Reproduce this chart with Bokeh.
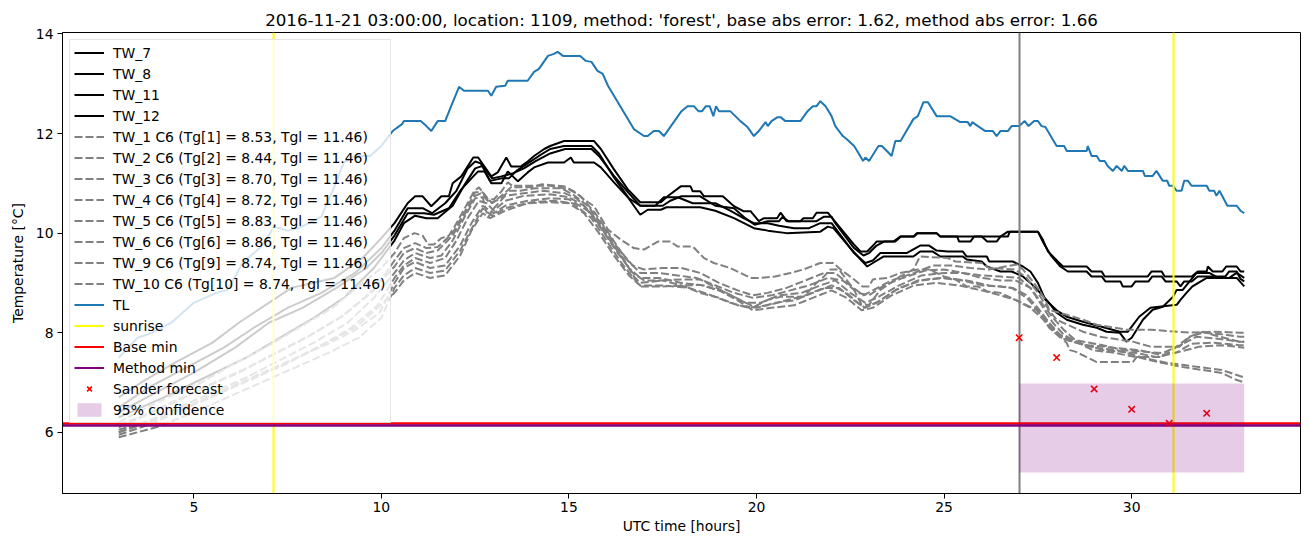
from bokeh.plotting import figure
from bokeh.models import Range1d, FixedTicker, Legend, LegendItem
from bokeh.embed import file_html
from bokeh.resources import INLINE

TITLE = "2016-11-21 03:00:00, location: 1109, method: 'forest', base abs error: 1.62, method abs error: 1.66"

# ---- data (time [h], temperature [C]) ----
tl = [(3.0,7.5),(3.5,7.9),(3.9,8.0),(4.4,8.2),(5.0,8.6),(5.6,8.8),(5.9,8.86),(6.3,9.4),(6.8,9.73),(7.15,10.13),
      (7.5,10.05),(7.8,10.1),(8.4,10.33),(8.75,10.94),(9.0,11.42),(9.3,11.55),(9.7,11.55),(10.0,11.75),(10.3,12.05),
      (10.55,12.19),(10.6,12.25),(11.05,12.25),(11.2,12.15),(11.33,12.05),(11.5,12.25),(11.7,12.25),(11.86,12.55),
      (12.07,12.94),(12.2,12.86),(12.84,12.86),(12.93,12.76),(13.06,12.94),(13.3,12.96),(13.37,13.06),(13.9,13.06),
      (14.07,13.24),(14.2,13.3),(14.44,13.56),(14.6,13.6),(14.7,13.64),(14.84,13.56),(15.3,13.56),(15.45,13.46),
      (15.6,13.44),(15.76,13.26),(15.9,13.2),(16.04,12.96),(16.73,12.09),(17.0,11.95),(17.1,11.95),(17.26,12.05),
      (17.4,12.05),(17.53,11.95),(18.0,12.45),(18.16,12.55),(18.33,12.55),(18.45,12.45),(18.55,12.45),(18.65,12.55),
      (18.75,12.55),(18.85,12.35),(18.92,12.55),(19.0,12.45),(19.3,12.45),(19.57,12.25),(19.76,12.13),(19.93,11.95),
      (20.06,12.05),(20.24,12.23),(20.3,12.15),(20.4,12.25),(20.56,12.33),(20.64,12.33),(20.77,12.25),(21.17,12.25),
      (21.36,12.45),(21.5,12.55),(21.6,12.55),(21.7,12.65),(21.84,12.55),(22.0,12.35),(22.1,12.15),(22.3,11.95),
      (22.4,11.89),(22.6,11.75),(22.7,11.63),(22.84,11.45),(22.9,11.52),(23.0,11.45),(23.25,11.75),(23.34,11.75),
      (23.5,11.63),(23.6,11.55),(23.7,11.85),(23.84,11.85),(24.18,12.29),(24.3,12.35),(24.45,12.63),(24.57,12.63),
      (24.8,12.35),(25.16,12.35),(25.43,12.23),(25.63,12.23),(25.7,12.15),(25.75,12.23),(25.9,12.15),(26.1,12.05),
      (26.3,12.05),(26.4,11.95),(26.5,12.05),(26.7,12.05),(26.8,12.15),(27.0,12.15),(27.15,12.25),(27.25,12.15),
      (27.4,12.25),(27.5,12.25),(27.6,12.15),(27.7,12.13),(28.0,11.75),(28.2,11.75),(28.27,11.65),(28.8,11.65),
      (28.83,11.75),(28.93,11.55),(29.07,11.55),(29.15,11.45),(29.28,11.45),(29.36,11.35),(29.5,11.25),(29.6,11.35),
      (29.74,11.25),(29.8,11.35),(29.9,11.25),(30.3,11.25),(30.35,11.15),(30.56,11.15),(30.66,11.25),(30.83,11.05),
      (30.95,11.05),(31.0,10.95),(31.1,10.95),(31.2,10.85),(31.33,10.85),(31.4,11.05),(31.5,11.05),(31.6,10.95),
      (32.0,10.95),(32.07,10.85),(32.2,10.85),(32.26,10.75),(32.34,10.85),(32.55,10.55),(32.8,10.55),(32.9,10.45),
      (33.0,10.4)]

tw7 = [(3.0,6.7),(3.6,7.0),(4.5,7.4),(5.5,7.8),(6.2,8.2),(6.8,8.5),(7.6,8.9),(8.75,9.1),(9.5,9.5),(10.0,9.9),
       (10.35,10.2),(10.7,10.6),(10.9,10.74),(11.1,10.74),(11.33,10.54),(11.6,10.74),(11.8,10.74),(11.9,11.0),
       (12.13,11.14),(12.45,11.52),(12.58,11.52),(12.93,11.14),(13.1,11.22),(13.33,11.52),(13.46,11.34),(13.72,11.34),
       (13.9,11.44),(14.07,11.55),(14.34,11.69),(14.5,11.75),(14.87,11.85),(15.67,11.85),(15.85,11.69),(16.2,11.28),
       (16.57,10.88),(16.9,10.62),(17.45,10.62),(17.63,10.74),(17.98,10.94),(18.24,10.94),(18.3,10.84),(18.5,10.84),
       (18.6,10.74),(19.1,10.74),(19.4,10.54),(19.65,10.44),(19.84,10.44),(20.06,10.24),(20.2,10.3),(20.55,10.3),
       (20.64,10.41),(20.75,10.3),(20.85,10.24),(21.17,10.24),(21.25,10.3),(21.5,10.3),(21.6,10.41),(21.9,10.41),
       (22.05,10.27),(22.6,9.77),(22.77,9.63),(22.95,9.63),(23.08,9.73),(23.2,9.83),(23.65,9.83),(23.83,9.93),
       (24.18,9.93),(24.27,10.0),(24.8,10.0),(24.9,9.93),(26.5,9.93),(26.7,10.03),(27.5,10.03),(27.63,9.87),
       (27.77,9.63),(27.9,9.53),(28.03,9.43),(28.17,9.33),(28.8,9.33),(28.93,9.23),(29.2,9.23),(29.28,9.13),
       (30.43,9.13),(30.53,9.23),(30.8,9.23),(30.88,9.13),(31.6,9.13),(31.76,9.23),(32.0,9.23),(32.03,9.33),
       (32.16,9.23),(32.42,9.23),(32.52,9.33),(32.8,9.33),(32.9,9.23),(33.0,9.23)]

tw8 = [(3.0,6.5),(3.8,6.9),(4.8,7.3),(5.8,7.7),(6.6,8.1),(7.5,8.5),(8.4,8.8),(9.3,9.2),(10.0,9.7),(10.35,10.05),
       (10.7,10.5),(11.1,10.5),(11.35,10.4),(11.7,10.6),(12.0,10.85),(12.3,11.3),(12.5,11.44),(12.65,11.4),(12.9,11.05),
       (13.2,11.1),(13.4,11.1),(13.6,11.25),(13.9,11.4),(14.2,11.55),(14.5,11.69),(14.87,11.75),(15.6,11.75),(15.8,11.6),
       (16.2,11.12),(16.6,10.7),(16.9,10.55),(17.5,10.55),(17.7,10.65),(18.0,10.74),(18.5,10.74),(18.9,10.55),
       (19.4,10.5),(19.7,10.3),(19.95,10.17),(20.3,10.24),(20.6,10.24),(20.7,10.33),(20.8,10.24),(21.6,10.24),
       (21.8,10.33),(22.0,10.33),(22.1,10.2),(22.6,9.7),(22.85,9.55),(23.0,9.6),(23.2,9.75),(23.4,9.83),(23.7,9.83),
       (23.85,9.93),(24.2,9.93),(24.3,10.0),(24.8,10.0),(24.9,9.93),(25.35,9.93),(25.4,9.83),(25.7,9.83),(25.8,9.93),
       (26.0,9.93),(26.15,9.83),(26.4,9.83),(26.5,9.93),(26.7,9.93),(26.75,10.03),(27.5,10.03),(27.65,9.8),
       (27.85,9.55),(28.1,9.33),(28.3,9.23),(28.8,9.23),(28.93,9.13),(29.2,9.13),(29.3,9.03),(29.7,9.03),
       (29.76,8.93),(30.0,8.93),(30.1,9.03),(30.45,9.03),(30.55,9.13),(30.8,9.13),(30.9,9.03),(31.2,9.03),
       (31.3,8.93),(31.4,9.03),(31.6,9.03),(31.76,9.13),(32.5,9.13),(32.6,9.23),(32.8,9.23),(32.9,9.08),(33.0,9.03)]

tw11 = [(3.0,6.4),(4.0,6.8),(5.0,7.2),(6.1,7.7),(7.0,8.2),(7.9,8.5),(8.8,8.9),(9.6,9.3),(10.0,9.6),(10.35,9.95),
        (10.7,10.4),(11.14,10.4),(11.4,10.37),(11.8,10.5),(12.13,10.88),(12.45,11.14),(12.58,11.24),(12.75,11.24),
        (12.93,11.0),(13.2,11.0),(13.37,11.24),(13.64,11.04),(13.9,11.22),(14.07,11.32),(14.44,11.42),(14.87,11.42),
        (15.05,11.52),(15.13,11.42),(15.67,11.42),(15.85,11.32),(16.2,11.02),(16.57,10.72),(16.9,10.37),(17.1,10.47),
        (17.45,10.47),(17.6,10.52),(18.5,10.52),(18.9,10.45),(19.4,10.3),(19.93,10.1),(20.3,10.05),(20.8,10.0),
        (21.7,10.03),(21.9,10.13),(22.05,10.1),(22.5,9.7),(22.8,9.45),(22.95,9.33),(23.1,9.4),(23.38,9.53),
        (24.18,9.53),(24.36,9.63),(24.7,9.63),(24.9,9.53),(25.5,9.53),(25.6,9.47),(26.0,9.43),(26.14,9.33),
        (26.5,9.23),(26.8,9.23),(27.1,9.13),(27.3,9.0),(27.5,8.85),(27.8,8.6),(28.0,8.4),(28.27,8.26),(28.7,8.16),
        (29.07,8.1),(29.33,8.02),(29.68,8.0),(29.86,7.82),(30.0,7.9),(30.3,8.26),(30.56,8.46),(30.83,8.52),
        (31.1,8.72),(31.2,8.86),(31.36,8.86),(31.73,9.2),(32.07,9.2),(32.3,9.1),(32.6,9.1),(32.8,9.2),(33.0,9.1)]

tw12 = [(3.0,6.3),(4.2,6.7),(5.3,7.1),(6.4,7.5),(7.3,7.9),(8.2,8.3),(9.0,8.7),(9.8,9.3),(10.35,9.85),(10.6,10.2),
        (10.9,10.35),(11.2,10.3),(11.5,10.3),(11.9,10.55),(12.2,10.95),(12.5,11.3),(12.7,11.35),(12.95,11.1),
        (13.2,11.14),(13.5,11.2),(13.8,11.3),(14.1,11.44),(14.5,11.6),(14.9,11.69),(15.6,11.69),(15.8,11.55),
        (16.2,11.15),(16.6,10.8),(16.9,10.55),(17.3,10.55),(17.53,10.72),(17.9,10.72),(18.3,10.6),(18.9,10.6),
        (19.3,10.45),(19.65,10.3),(19.93,10.2),(20.3,10.2),(20.6,10.15),(21.0,10.1),(21.4,10.1),(21.7,10.2),
        (22.0,10.2),(22.2,10.0),(22.6,9.6),(22.9,9.4),(23.1,9.45),(23.3,9.6),(24.0,9.6),(24.36,9.75),(24.6,9.75),
        (24.8,9.65),(25.1,9.63),(25.5,9.63),(25.6,9.53),(26.14,9.53),(26.2,9.43),(26.83,9.43),(27.1,9.33),
        (27.3,9.23),(27.5,9.0),(27.7,8.66),(28.0,8.45),(28.27,8.32),(28.7,8.22),(29.2,8.12),(29.68,8.02),
        (29.9,8.02),(30.2,8.32),(30.5,8.5),(31.2,8.56),(31.3,8.66),(31.46,8.8),(31.62,8.93),(32.0,9.1),
        (32.8,9.1),(33.0,8.93)]

tw1 = [(3.0,6.2),(3.5,6.4),(4.3,6.7),(5.2,7.0),(6.0,7.35),(6.9,7.7),(7.8,8.1),(8.7,8.5),(9.5,9.0),(10.0,9.3),
       (10.35,9.6),(10.6,9.9),(10.88,10.0),(11.1,9.95),(11.25,9.77),(11.4,9.77),(11.6,9.9),(11.8,9.95),(11.95,10.13),
       (12.2,10.47),(12.47,10.84),(12.6,10.92),(12.84,10.68),(13.0,10.68),(13.2,10.84),(13.37,11.02),(13.54,10.92),
       (14.0,10.92),(14.26,10.98),(14.87,10.94),(15.13,10.84),(15.4,10.68),(15.67,10.54),(16.04,10.07),(16.38,9.87),
       (16.73,9.7),(17.0,9.67),(17.37,9.83),(17.7,9.83),(17.9,9.73),(18.3,9.73),(18.6,9.5),(18.86,9.4),(19.3,9.3),
       (19.57,9.2),(19.84,9.1),(20.1,9.1),(20.5,9.13),(20.9,9.2),(21.25,9.27),(21.7,9.4),(22.05,9.4),(22.24,9.27),
       (22.6,9.07),(22.82,8.93),(23.0,8.93),(23.1,9.07),(23.5,9.1),(23.83,9.2),(24.3,9.27),(24.6,9.27),(25.0,9.13),
       (25.3,9.07),(25.6,8.93),(25.9,8.93),(26.15,8.83),(26.5,8.8),(26.9,8.66),(27.3,8.52),(27.45,8.46),(27.7,8.26),
       (28.0,8.0),(28.27,7.79),(28.35,7.65),(28.5,7.62),(28.8,7.51),(29.07,7.41),(30.03,7.41),(30.13,7.51),
       (30.8,7.51),(31.2,7.72),(31.55,7.92),(31.9,8.02),(32.2,7.95),(32.87,7.82),(33.0,7.82)]

tw2 = [(3.0,6.1),(3.6,6.3),(4.4,6.6),(5.3,6.9),(6.2,7.2),(7.1,7.55),(8.0,7.9),(8.9,8.3),(9.7,8.8),(10.35,9.33),
       (10.6,9.6),(10.9,9.7),(11.2,9.6),(11.5,9.65),(11.9,9.95),(12.2,10.35),(12.5,10.75),(12.65,10.8),(12.9,10.6),
       (13.2,10.7),(13.4,10.85),(13.7,10.85),(14.1,10.9),(14.8,10.9),(15.1,10.78),(15.5,10.55),(15.9,10.15),
       (16.3,9.7),(16.7,9.35),(17.0,9.27),(17.5,9.3),(18.0,9.3),(18.5,9.2),(19.0,9.0),(19.5,8.85),(19.9,8.75),
       (20.3,8.8),(20.8,8.9),(21.3,9.05),(21.8,9.2),(22.1,9.2),(22.5,8.95),(22.85,8.75),(23.1,8.85),(23.6,9.05),
       (24.2,9.2),(24.7,9.35),(25.2,9.35),(25.7,9.3),(26.2,9.27),(26.94,9.37),(27.1,9.27),(27.4,9.0),(27.7,8.66),
       (27.8,8.46),(28.27,8.36),(28.7,8.26),(29.07,8.16),(29.86,8.06),(30.5,8.06),(31.55,8.0),(32.2,8.02),
       (32.87,8.0),(33.0,8.0)]

tw3 = [(3.0,6.0),(3.7,6.2),(4.6,6.5),(5.5,6.8),(6.4,7.1),(7.3,7.45),(8.2,7.8),(9.1,8.2),(9.8,8.7),(10.35,9.2),
       (10.6,9.45),(10.9,9.6),(11.3,9.5),(11.6,9.55),(11.9,9.85),(12.2,10.3),(12.5,10.7),(12.7,10.72),(12.84,10.31),
       (13.0,10.5),(13.3,10.75),(13.8,10.8),(14.3,10.85),(14.9,10.8),(15.2,10.7),(15.6,10.4),(16.0,9.95),(16.4,9.55),
       (16.73,9.13),(16.9,9.0),(17.5,9.05),(18.0,9.07),(18.5,9.07),(18.86,8.93),(19.4,8.72),(19.93,8.52),(20.3,8.66),
       (20.64,8.72),(21.25,8.72),(21.6,9.0),(21.8,9.13),(21.97,9.27),(22.2,9.27),(22.6,8.86),(22.8,8.56),(23.0,8.56),
       (23.3,8.86),(23.83,9.13),(24.18,9.27),(24.36,9.53),(25.1,9.5),(25.3,9.43),(26.0,9.4),(26.2,9.3),(26.9,9.27),
       (27.2,9.1),(27.5,8.8),(27.8,8.45),(28.0,8.26),(28.7,8.02),(29.15,7.92),(30.03,7.82),(30.5,7.72),(31.28,7.72),
       (31.55,7.92),(31.9,8.0),(32.4,7.97),(32.87,7.92),(33.0,7.92)]

tw4 = [(3.0,5.95),(3.8,6.15),(4.7,6.45),(5.6,6.75),(6.5,7.05),(7.4,7.35),(8.3,7.7),(9.2,8.1),(9.9,8.55),(10.35,9.1),
       (10.6,9.35),(10.9,9.5),(11.3,9.4),(11.7,9.5),(12.0,9.85),(12.3,10.3),(12.6,10.65),(12.8,10.6),(13.0,10.45),
       (13.3,10.65),(13.8,10.75),(14.5,10.78),(15.0,10.72),(15.4,10.55),(15.8,10.2),(16.2,9.75),(16.6,9.3),(16.9,9.1),
       (17.4,9.1),(18.0,9.0),(18.6,8.95),(19.2,8.8),(19.7,8.6),(20.1,8.6),(20.6,8.75),(21.2,8.8),(21.7,8.95),
       (22.1,9.05),(22.5,8.8),(22.9,8.6),(23.2,8.7),(23.8,8.95),(24.4,9.15),(25.0,9.2),(25.5,9.2),(26.0,9.1),
       (26.5,9.05),(26.9,9.05),(27.3,8.9),(27.6,8.6),(27.9,8.3),(28.2,8.05),(28.5,7.85),(29.23,7.75),(29.76,7.65),
       (30.3,7.62),(30.83,7.59),(31.3,7.75),(31.73,7.92),(32.3,7.88),(32.87,7.82),(33.0,7.82)]

tw5 = [(3.0,6.05),(3.9,6.25),(4.9,6.55),(5.8,6.85),(6.7,7.15),(7.6,7.45),(8.5,7.75),(9.3,8.05),(9.95,8.4),(10.35,9.0),
       (10.6,9.3),(10.9,9.42),(11.3,9.3),(11.7,9.35),(12.1,9.75),(12.4,10.2),(12.7,10.55),(13.0,10.4),(13.3,10.55),
       (13.9,10.65),(14.5,10.7),(15.0,10.68),(15.5,10.45),(15.9,10.05),(16.3,9.6),(16.7,9.2),(17.0,9.05),(17.5,9.05),
       (18.0,8.95),(18.5,8.8),(19.0,8.7),(19.5,8.55),(20.0,8.5),(20.5,8.6),(21.0,8.65),(21.5,8.8),(22.0,8.95),
       (22.4,8.8),(22.85,8.5),(23.2,8.6),(23.7,8.85),(24.3,9.05),(24.9,9.1),(25.5,9.05),(26.0,8.95),(26.5,8.93),
       (26.83,8.9),(27.2,8.75),(27.5,8.5),(27.8,8.2),(28.1,7.95),(28.6,7.8),(29.23,7.65),(30.13,7.59),(30.66,7.51),
       (31.2,7.6),(31.6,7.78),(32.2,7.8),(32.87,7.75),(33.0,7.75)]

tw6 = [(3.0,5.9),(4.0,6.1),(5.0,6.4),(5.9,6.7),(6.8,7.0),(7.7,7.3),(8.6,7.6),(9.4,7.9),(10.0,8.3),(10.35,8.9),
       (10.6,9.15),(10.9,9.3),(11.3,9.2),(11.7,9.25),(12.1,9.65),(12.45,10.15),(12.7,10.5),(12.95,10.35),(13.3,10.5),
       (14.0,10.62),(14.6,10.65),(15.1,10.6),(15.6,10.3),(16.0,9.85),(16.4,9.4),(16.9,8.93),(17.5,8.93),(18.5,8.96),
       (19.0,8.85),(19.5,8.65),(19.9,8.45),(20.4,8.5),(21.0,8.55),(21.5,8.7),(22.0,8.85),(22.4,8.7),(22.8,8.45),
       (23.1,8.5),(23.6,8.75),(24.2,8.95),(24.8,9.0),(25.4,8.95),(26.0,8.85),(26.5,8.75),(26.9,8.66),(27.3,8.5),
       (27.6,8.3),(27.9,8.05),(28.3,7.85),(28.8,7.75),(29.5,7.7),(30.2,7.65),(30.8,7.55),(31.3,7.62),(31.8,7.72),
       (32.4,7.75),(33.0,7.7)]

tw9 = [(3.0,6.15),(3.7,6.35),(4.5,6.6),(5.4,6.95),(6.3,7.25),(7.2,7.6),(8.1,7.95),(9.0,8.35),(9.8,8.85),(10.35,9.45),
       (10.6,9.7),(10.9,9.8),(11.2,9.7),(11.5,9.72),(11.9,10.0),(12.2,10.4),(12.5,10.82),(12.7,10.82),(12.95,10.6),
       (13.2,10.75),(13.5,10.95),(14.5,10.95),(15.0,10.88),(15.3,10.75),(15.7,10.4),(16.1,9.95),(16.5,9.5),
       (16.9,9.2),(17.4,9.2),(17.9,9.15),(18.4,9.1),(18.9,8.95),(19.4,8.8),(19.9,8.7),(20.4,8.75),(20.9,8.85),
       (21.4,8.95),(21.9,9.1),(22.3,9.05),(22.7,8.8),(23.0,8.75),(23.4,8.95),(23.9,9.1),(24.5,9.25),(25.0,9.27),
       (25.5,9.2),(26.0,9.15),(26.5,9.13),(27.0,9.1),(27.3,8.9),(27.6,8.55),(27.9,8.2),(28.2,7.95),(28.7,7.75),
       (28.96,7.65),(29.5,7.6),(30.2,7.5),(30.83,7.39),(31.36,7.31),(31.9,7.25),(32.4,7.19),(32.8,7.05),(33.0,7.0)]

tw10 = [(3.0,6.0),(3.8,6.2),(4.8,6.5),(5.7,6.8),(6.6,7.1),(7.5,7.4),(8.4,7.75),(9.3,8.1),(9.9,8.5),(10.35,8.8),
        (10.6,9.05),(10.9,9.2),(11.3,9.1),(11.7,9.15),(12.1,9.55),(12.4,10.05),(12.7,10.4),(12.9,10.3),(13.3,10.45),
        (13.9,10.6),(14.5,10.62),(15.0,10.6),(15.4,10.4),(15.8,10.0),(16.2,9.55),(16.6,9.15),(16.9,8.95),(17.5,8.95),
        (18.2,8.9),(18.8,8.75),(19.3,8.6),(19.8,8.5),(20.3,8.55),(20.8,8.65),(21.3,8.75),(21.8,8.9),(22.2,8.9),
        (22.6,8.65),(22.9,8.5),(23.3,8.65),(23.8,8.9),(24.4,9.05),(25.0,9.1),(25.6,9.05),(26.2,8.95),(26.8,8.9),
        (27.2,8.7),(27.5,8.45),(27.8,8.1),(28.1,7.9),(28.5,7.8),(29.0,7.7),(29.6,7.65),(30.3,7.5),(30.9,7.4),
        (31.4,7.35),(31.9,7.3),(32.4,7.25),(32.8,7.15),(33.0,7.1)]

solid_labels = ["TW_7", "TW_8", "TW_11", "TW_12"]
dashed_labels = ["TW_1 C6 (Tg[1] = 8.53, Tgl = 11.46)", "TW_2 C6 (Tg[2] = 8.44, Tgl = 11.46)",
                 "TW_3 C6 (Tg[3] = 8.70, Tgl = 11.46)", "TW_4 C6 (Tg[4] = 8.72, Tgl = 11.46)",
                 "TW_5 C6 (Tg[5] = 8.83, Tgl = 11.46)", "TW_6 C6 (Tg[6] = 8.86, Tgl = 11.46)",
                 "TW_9 C6 (Tg[9] = 8.74, Tgl = 11.46)", "TW_10 C6 (Tg[10] = 8.74, Tgl = 11.46)"]

sunrise_times = [7.13, 31.12]
forecast_time = [27.0]
base_min = [6.18]
method_min = [6.14]
sander_time = [27, 28, 29, 30, 31, 32]
sander_temp = [7.9, 7.5, 6.87, 6.46, 6.18, 6.38]
conf_left = [27.0]
conf_right = [33.0]
conf_low = [5.19]
conf_high = [6.98]

x_ticks = [5, 10, 15, 20, 25, 30]
y_ticks = [6, 8, 10, 12, 14]

FONT = "DejaVu Sans"
NAN = float("nan")

p = figure(width=1310, height=547, x_range=Range1d(1.5, 34.5), y_range=Range1d(4.77, 14.03),
           output_backend="svg", toolbar_location=None, title=TITLE,
           min_border_left=62, min_border_right=10, min_border_top=32, min_border_bottom=54)
p.background_fill_color = "white"
p.border_fill_color = "white"
p.outline_line_color = "black"
p.outline_line_width = 1
p.outline_line_alpha = 1
p.xgrid.visible = False
p.ygrid.visible = False

p.title.align = "center"
p.title.text_font = FONT
p.title.text_font_size = "16.7px"
p.title.text_font_style = "normal"
p.title.text_color = "black"
p.title.standoff = 6

for ax, ticks in ((p.xaxis[0], x_ticks), (p.yaxis[0], y_ticks)):
    ax.ticker = FixedTicker(ticks=ticks)
    ax.major_tick_out = 5
    ax.major_tick_in = 0
    ax.minor_tick_line_color = None
    ax.major_tick_line_color = "black"
    ax.axis_line_color = "black"
    ax.major_label_text_font = FONT
    ax.major_label_text_font_size = "13.9px"
    ax.major_label_text_color = "black"
    ax.axis_label_text_font = FONT
    ax.axis_label_text_font_size = "13.9px"
    ax.axis_label_text_font_style = "normal"
    ax.axis_label_text_color = "black"
p.xaxis.axis_label = "UTC time [hours]"
p.yaxis.axis_label = "Temperature [°C]"
p.xaxis.major_label_standoff = 3
p.xaxis.axis_label_standoff = 3
p.yaxis.major_label_standoff = 4
p.yaxis.axis_label_standoff = 7

items = []
for pts, lab in zip([tw7, tw8, tw11, tw12], solid_labels):
    r = p.line([a for a, b in pts], [b for a, b in pts], line_color="black", line_width=2)
    items.append(LegendItem(label=lab, renderers=[r]))
for pts, lab in zip([tw1, tw2, tw3, tw4, tw5, tw6, tw9, tw10], dashed_labels):
    r = p.line([a for a, b in pts], [b for a, b in pts], line_color="gray", line_width=2, line_dash="8 3")
    items.append(LegendItem(label=lab, renderers=[r]))
r = p.line([a for a, b in tl], [b for a, b in tl], line_color="#1f77b4", line_width=2)
items.append(LegendItem(label="TL", renderers=[r]))

p.vspan(x=sunrise_times, line_color="yellow", line_width=2)
p.vspan(x=forecast_time, line_color="gray", line_width=2)
p.hspan(y=base_min, line_color="red", line_width=2.5)
p.hspan(y=method_min, line_color="purple", line_width=2.5)

# legend proxies (not visible in the plot area)
leg_sun = p.line(x=[NAN, NAN], y=[NAN, NAN], line_color="yellow", line_width=2)
leg_base = p.line(x=[NAN, NAN], y=[NAN, NAN], line_color="red", line_width=2)
leg_meth = p.line(x=[NAN, NAN], y=[NAN, NAN], line_color="purple", line_width=2)
items.append(LegendItem(label="sunrise", renderers=[leg_sun]))
items.append(LegendItem(label="Base min", renderers=[leg_base]))
items.append(LegendItem(label="Method min", renderers=[leg_meth]))

r = p.scatter(sander_time, sander_temp, marker="x", size=9, line_color="red", line_width=1.6)
items.append(LegendItem(label="Sander forecast", renderers=[r]))
r = p.quad(left=conf_left, right=conf_right, bottom=conf_low, top=conf_high,
           fill_color="purple", fill_alpha=0.2, line_color=None)
items.append(LegendItem(label="95% confidence", renderers=[r]))

legend = Legend(items=items, location="top_left")
legend.margin = 7
legend.padding = 4
legend.spacing = 4
legend.glyph_height = 17
legend.label_height = 17
legend.glyph_width = 30
legend.label_standoff = 9
legend.label_text_font = FONT
legend.label_text_font_size = "13.9px"
legend.label_text_color = "black"
legend.border_line_color = "#cccccc"
legend.border_line_width = 1
legend.background_fill_color = "white"
legend.background_fill_alpha = 0.8
p.add_layout(legend)

open("out.html", "w").write(file_html(p, INLINE))
